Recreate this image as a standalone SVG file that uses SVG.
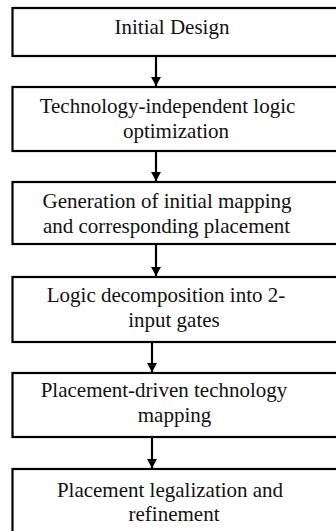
<svg xmlns="http://www.w3.org/2000/svg" width="336" height="531" viewBox="0 0 336 531">
<defs>
<style>
.box{fill:#fff;stroke:#000;stroke-width:2.2}
.t{font-family:'Liberation Serif','DejaVu Serif','Times New Roman',serif;font-size:21px;fill:#111;text-anchor:middle}
.c{stroke:#000;stroke-width:2.2;fill:none}
</style>
<marker id="ah" markerUnits="userSpaceOnUse" markerWidth="9" markerHeight="10" refX="9" refY="5" orient="auto" viewBox="0 0 9 10">
<path d="M0,0 L9,5 L0,10 Z" fill="#000"/>
</marker>
</defs>
<rect width="336" height="531" fill="#fff"/>
<g id="n1"><rect class="box" x="12.5" y="8" width="340" height="48"/><text class="t" x="172" y="34">Initial Design</text></g>
<g id="n2"><rect class="box" x="12.5" y="87" width="340" height="64"/><text class="t" x="167.5" y="113">Technology-independent logic</text><text class="t" x="176" y="138">optimization</text></g>
<g id="n3"><rect class="box" x="12.5" y="182" width="340" height="62"/><text class="t" x="167" y="208">Generation of initial mapping</text><text class="t" x="166.5" y="233">and corresponding placement</text></g>
<g id="n4"><rect class="box" x="12.5" y="277" width="340" height="65"/><text class="t" x="166" y="302">Logic decomposition into 2-</text><text class="t" x="174" y="327">input gates</text></g>
<g id="n5"><rect class="box" x="12.5" y="373" width="340" height="64"/><text class="t" x="164" y="397">Placement-driven technology</text><text class="t" x="174.5" y="422">mapping</text></g>
<g id="n6"><rect class="box" x="12.5" y="469" width="340" height="80"/><text class="t" x="170" y="497">Placement legalization and</text><text class="t" x="174" y="521">refinement</text></g>
<g id="connectors">
<line class="c" x1="156" y1="57" x2="156" y2="86" marker-end="url(#ah)"/>
<line class="c" x1="156" y1="152" x2="156" y2="181" marker-end="url(#ah)"/>
<line class="c" x1="156" y1="245" x2="156" y2="276" marker-end="url(#ah)"/>
<line class="c" x1="152" y1="343" x2="152" y2="372" marker-end="url(#ah)"/>
<line class="c" x1="152" y1="438" x2="152" y2="468" marker-end="url(#ah)"/>
</g>
</svg>
